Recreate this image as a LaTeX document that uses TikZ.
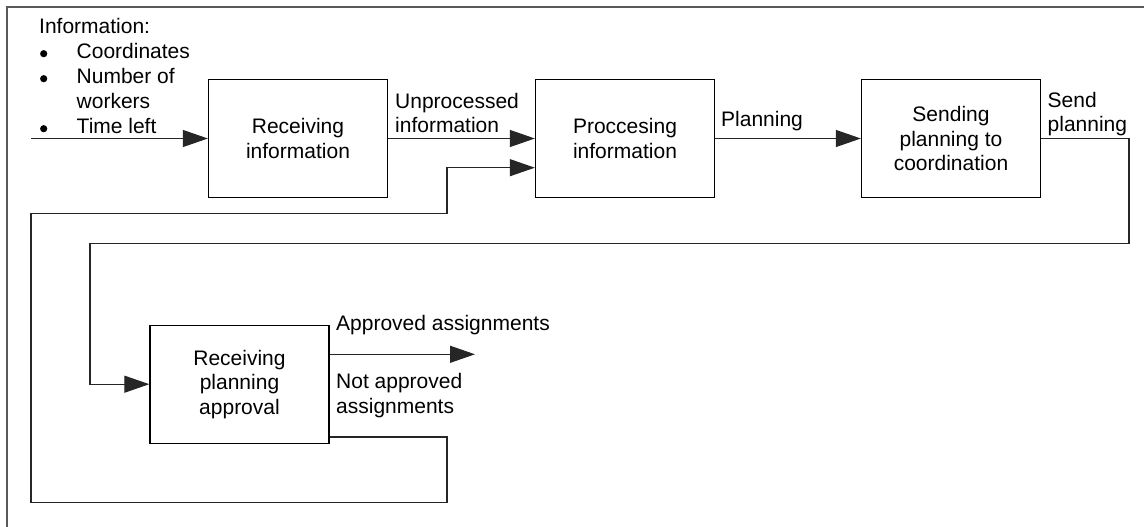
\documentclass[tikz,border=0pt]{standalone}
\usepackage{fontspec}
\setmainfont{Liberation Sans}
\usetikzlibrary{arrows.meta}

\tikzset{
  procbox/.style={draw=black, line width=1.3pt, minimum width=179pt, minimum height=118pt,
    inner sep=0pt, align=center, font=\fontsize{21}{24.5}\selectfont},
  lbl/.style={anchor=base west, inner sep=0pt, align=left, font=\fontsize{21}{24.5}\selectfont},
  dotmark/.style={circle, fill=black, draw=none, minimum size=7.2pt, inner sep=0pt},
  flow/.style={draw=black!85, line width=1.1pt},
  arr/.style={flow, -{Triangle[length=25pt, width=17pt]}},
  frameline/.style={draw=black!65, line width=1.6pt}
}

\begin{document}
\begin{tikzpicture}[x=1pt, y=-1pt]
  \useasboundingbox (0,0) rectangle (1144,527);
  \fill[white] (0,0) rectangle (1144,527);

  % partial frame: top and left edges
  \coordinate (ftl) at (7,7);
  \coordinate (ftr) at (1144,7);
  \coordinate (fbl) at (7,527);
  \draw[frameline] (ftr) -- (ftl) -- (fbl);

  % process boxes
  \node[procbox] (recv)  at (298,138.5)   {Receiving\\information};
  \node[procbox] (proc)  at (625,138.5)   {Proccesing\\information};
  \node[procbox] (send)  at (951,138.5)   {Sending\\planning to\\coordination};
  \node[procbox] (appr)  at (239.5,384.2) {Receiving\\planning\\approval};

  % incoming information list
  \node[lbl] (infotitle) at (39,33.3)  {Information:};
  \node[dotmark] (b1) at (43.7,53.7) {};
  \node[lbl] (i1) at (76.5,58.3)  {Coordinates};
  \node[dotmark] (b2) at (43.7,78.7) {};
  \node[lbl] (i2) at (76.5,83.3)  {Number of};
  \node[lbl] (i2b) at (76.5,108.3) {workers};
  \node[dotmark] (b3) at (43.7,128.7) {};
  \node[lbl] (i3) at (76.5,133.3) {Time left};

  % connector labels (base anchor sits on the last line)
  \node[lbl] (lunproc) at (395,132.7) {Unprocessed\\information};
  \node[lbl] (lplan)   at (721,126)   {Planning};
  \node[lbl] (lsend)   at (1047.5,131.7) {Send\\planning};
  \node[lbl] (lappr)   at (336,330)   {Approved assignments};
  \node[lbl] (lnot)    at (336,413.3) {Not approved\\assignments};

  % main flow
  \coordinate (in0) at (31,138.5);
  \draw[arr] (in0) -- (recv.west);
  \draw[arr] (recv.east) -- (proc.west);
  \draw[arr] (proc.east) -- (send.west);

  % sending planning back down to the approval step
  \coordinate (s1) at (1129,138.5);
  \coordinate (s2) at (1129,243.3);
  \coordinate (s3) at (90,243.3);
  \coordinate (s4) at (90,384.2);
  \draw[arr] (send.east) -- (s1) -- (s2) -- (s3) -- (s4) -- (appr.west);

  % approved assignments leave the process
  \coordinate (aout) at (475,354.3);
  \draw[arr] ([yshift=29.9pt]appr.east) -- (aout);

  % not approved assignments loop back to processing
  \coordinate (n1) at (447,437);
  \coordinate (n2) at (447,502.7);
  \coordinate (n3) at (31,502.7);
  \coordinate (n4) at (31,213.3);
  \coordinate (n5) at (447,213.3);
  \coordinate (n6) at (447,167.7);
  \draw[arr] ([yshift=-52.8pt]appr.east) -- (n1) -- (n2) -- (n3) -- (n4) -- (n5) -- (n6) -- (proc.west |- n6);
\end{tikzpicture}
\end{document}
